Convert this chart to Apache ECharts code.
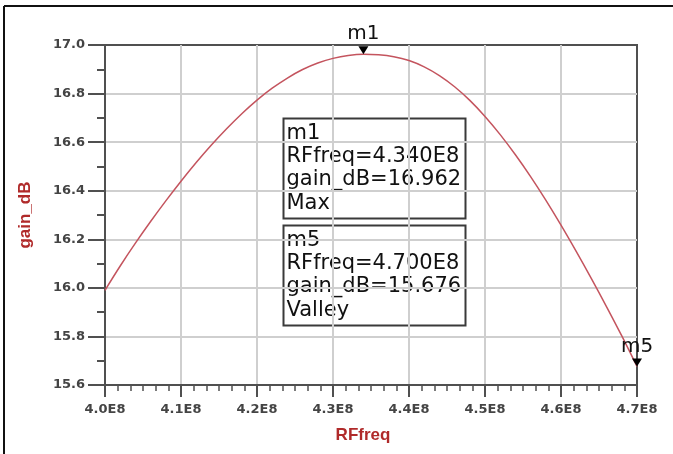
<!DOCTYPE html>
<html>
<head>
<meta charset="utf-8">
<script src="https://cdn.jsdelivr.net/npm/echarts@6/dist/echarts.min.js"></script>
<style>
  html, body { margin: 0; padding: 0; background: #fff; }
  #chart { width: 673px; height: 454px; }
</style>
</head>
<body>
<div id="chart"></div>
<script>
// Amplifier gain sweep over RF frequency
const rfFreq = [
  4.00e8, 4.02e8, 4.04e8, 4.06e8, 4.08e8, 4.10e8, 4.12e8, 4.14e8, 4.16e8, 4.18e8,
  4.20e8, 4.22e8, 4.24e8, 4.26e8, 4.28e8, 4.30e8, 4.32e8, 4.34e8, 4.36e8, 4.38e8,
  4.40e8, 4.42e8, 4.44e8, 4.46e8, 4.48e8, 4.50e8, 4.52e8, 4.54e8, 4.56e8, 4.58e8,
  4.60e8, 4.62e8, 4.64e8, 4.66e8, 4.68e8, 4.70e8
];
const gainDb = [
  15.990, 16.090, 16.184, 16.273, 16.358, 16.439, 16.516, 16.588, 16.655, 16.717,
  16.773, 16.822, 16.864, 16.899, 16.926, 16.945, 16.957, 16.962, 16.960, 16.952,
  16.936, 16.910, 16.874, 16.828, 16.772, 16.706, 16.631, 16.548, 16.458, 16.361,
  16.258, 16.150, 16.038, 15.922, 15.802, 15.676
];

// Markers: name, frequency, gain, search mode
const markerNames = ['m1', 'm5'];
const markerFreq = [4.340e8, 4.700e8];
const markerGain = [16.962, 15.676];
const markerMode = ['Max', 'Valley'];

// Axis ranges and tick steps
const xMin = 4.0e8, xMax = 4.7e8, xStep = 0.1e8;
const yMin = 15.6, yMax = 17.0, yStep = 0.2;

const frameColor = '#505050';
const gridColor = '#cfcfcf';
const nameColor = '#b02a2a';
const tickFont = '"DejaVu Sans", sans-serif';
const nameFont = '"Liberation Sans", Arial, sans-serif';

function markerText(i) {
  return [
    markerNames[i],
    'RFfreq=' + (markerFreq[i] / 1e8).toFixed(3) + 'E8',
    'gain_dB=' + markerGain[i].toFixed(3),
    markerMode[i]
  ].join('\n');
}

function readoutBox(i, left, top) {
  return {
    type: 'group',
    left: left,
    top: top,
    children: [
      {
        type: 'rect',
        shape: { x: 0, y: 0, width: 182, height: 100 },
        style: { fill: 'none', stroke: '#3a3a3a', lineWidth: 2 }
      },
      {
        type: 'text',
        x: 3,
        y: 3,
        style: {
          text: markerText(i),
          font: '21px "DejaVu Sans", sans-serif',
          fill: '#111',
          lineHeight: 23.3,
          verticalAlign: 'top'
        }
      }
    ]
  };
}

const chart = echarts.init(document.getElementById('chart'), null, { renderer: 'canvas' });

chart.setOption({
  animation: false,
  backgroundColor: '#fff',
  grid: {
    left: 105, right: 36, top: 45, bottom: 69,
    show: true,
    borderColor: frameColor,
    borderWidth: 2,
    backgroundColor: 'transparent'
  },
  xAxis: {
    type: 'value',
    min: xMin, max: xMax, interval: xStep,
    name: 'RFfreq',
    nameLocation: 'middle',
    nameGap: 42,
    nameTextStyle: {
      color: nameColor, fontFamily: nameFont, fontWeight: 'bold', fontSize: 17,
      padding: [0, 16, 0, 0]
    },
    axisLine: { show: true, lineStyle: { color: frameColor, width: 2 } },
    axisTick: { show: true, length: 12, lineStyle: { color: frameColor, width: 2 } },
    minorTick: { show: true, splitNumber: 6, length: 6, lineStyle: { color: frameColor, width: 1.5 } },
    axisLabel: {
      margin: 18,
      color: '#444',
      fontFamily: tickFont,
      fontWeight: 'bold',
      fontSize: 13,
      formatter: v => (v / 1e8).toFixed(1) + 'E8'
    },
    splitLine: { show: true, showMinLine: false, showMaxLine: false, lineStyle: { color: gridColor, width: 2 } }
  },
  yAxis: {
    type: 'value',
    min: yMin, max: yMax, interval: yStep,
    name: 'gain_dB',
    nameLocation: 'middle',
    nameRotate: 90,
    nameGap: 71,
    nameTextStyle: { color: nameColor, fontFamily: nameFont, fontWeight: 'bold', fontSize: 17 },
    axisLine: { show: true, lineStyle: { color: frameColor, width: 2 } },
    axisTick: { show: true, length: 17, lineStyle: { color: frameColor, width: 2 } },
    minorTick: { show: true, splitNumber: 2, length: 8, lineStyle: { color: frameColor, width: 2 } },
    axisLabel: {
      margin: 20,
      color: '#444',
      fontFamily: tickFont,
      fontWeight: 'bold',
      fontSize: 13,
      formatter: v => v.toFixed(1)
    },
    splitLine: { show: true, showMinLine: false, showMaxLine: false, lineStyle: { color: gridColor, width: 2 } }
  },
  series: [{
    type: 'line',
    data: rfFreq.map((f, i) => [f, gainDb[i]]),
    smooth: 0.4,
    showSymbol: false,
    clip: false,
    lineStyle: { color: '#c4545e', width: 1.5 },
    markPoint: {
      symbol: 'triangle',
      symbolRotate: 180,
      symbolSize: [10, 8],
      symbolOffset: [0, '-50%'],
      itemStyle: { color: '#000' },
      label: {
        show: true,
        position: 'top',
        distance: 2,
        color: '#111',
        fontFamily: '"DejaVu Sans", sans-serif',
        fontSize: 20,
        formatter: p => p.name
      },
      data: markerNames.map((n, i) => ({ name: n, coord: [markerFreq[i], markerGain[i]] }))
    }
  }],
  graphic: [
    { type: 'line', shape: { x1: 4, y1: 6, x2: 673, y2: 6 }, style: { stroke: '#111', lineWidth: 2 } },
    { type: 'line', shape: { x1: 4, y1: 6, x2: 4, y2: 454 }, style: { stroke: '#111', lineWidth: 2 } },
    readoutBox(0, 281, 116),
    readoutBox(1, 281, 223)
  ]
});
</script>
</body>
</html>
